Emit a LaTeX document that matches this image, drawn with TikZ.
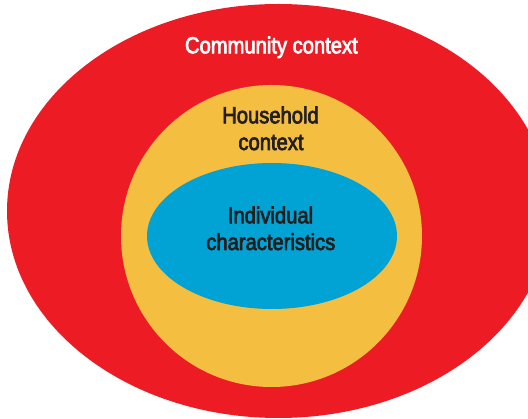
\documentclass[tikz,border=0pt]{standalone}
\usepackage{fontspec}
\setmainfont{Liberation Sans}[FakeStretch=0.87,FakeBold=3]
\definecolor{ringred}{RGB}{237,28,36}
\definecolor{ringyellow}{RGB}{244,190,65}
\definecolor{ringblue}{RGB}{0,163,212}
\definecolor{textdark}{RGB}{35,31,32}
\begin{document}
\begin{tikzpicture}[x=1pt,y=-1pt,
  lbl/.style={font=\fontsize{23.2}{27}\selectfont, inner sep=0pt, anchor=base, align=center}]
\useasboundingbox (0,0) rectangle (528,419);
\begin{scope}
\clip (0,0) rectangle (528,419);
\fill[ringred] (278.4,211) ellipse [x radius=271.4, y radius=207];
\end{scope}
\fill[ringyellow] (271.5,236) ellipse [x radius=150.5, y radius=151];
\fill[ringblue] (272,236) ellipse [x radius=125, y radius=73];
\node[lbl, text=white] (community) at (271.4,53.3) {Community context};
\node[lbl, text=textdark] (household1) at (270.5,123.3) {Household};
\node[lbl, text=textdark] (household2) at (271,150) {context};
\node[lbl, text=textdark] (individual1) at (270.5,223.3) {Individual};
\node[lbl, text=textdark] (individual2) at (270.8,250) {characteristics};
\end{tikzpicture}
\end{document}
